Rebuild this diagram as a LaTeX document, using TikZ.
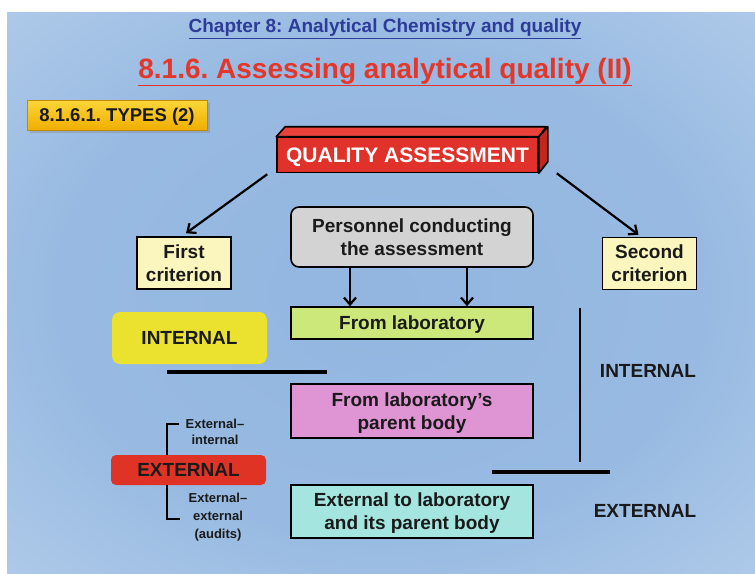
\documentclass[tikz,border=0pt]{standalone}
\usepackage{fontspec}
\setmainfont{Liberation Sans}
\usetikzlibrary{positioning,shadows,arrows.meta}
\definecolor{chapblue}{RGB}{45,60,152}
\definecolor{titlered}{RGB}{226,55,42}
\definecolor{qared}{RGB}{224,49,42}
\definecolor{qatop}{RGB}{234,66,58}
\definecolor{qaside}{RGB}{196,38,30}
\definecolor{critfill}{RGB}{251,246,190}
\definecolor{persfill}{RGB}{211,211,211}
\definecolor{labfill}{RGB}{204,231,122}
\definecolor{parentfill}{RGB}{223,148,211}
\definecolor{extfill}{RGB}{164,229,224}
\definecolor{intyellow}{RGB}{235,226,47}
\definecolor{extred}{RGB}{223,51,38}
\definecolor{goldtop}{RGB}{252,214,58}
\definecolor{goldbot}{RGB}{240,174,0}
\definecolor{inktext}{RGB}{26,26,26}
\definecolor{bgin}{RGB}{146,182,224}
\definecolor{bgmid}{RGB}{178,204,234}
\definecolor{bgout}{RGB}{244,228,246}
\pgfdeclareradialshading{slidebg}{\pgfpoint{0bp}{0bp}}{color(0bp)=(bgin); color(22bp)=(bgin!80!bgmid); color(38bp)=(bgmid); color(56bp)=(bgout); color(80bp)=(bgout)}
\frenchspacing
\begin{document}
\begin{tikzpicture}[x=1pt,y=-1pt,font=\bfseries,text=inktext,
	box/.style={draw=black,line width=1.6pt,minimum width=242pt,align=center,text depth=0pt,font=\fontsize{19}{23}\bfseries},
	crit/.style={draw=black,line width=1.6pt,fill=critfill,minimum width=94pt,minimum height=52pt,align=center,text depth=0pt,font=\fontsize{19}{23}\bfseries},
	tag/.style={rounded corners=8pt,minimum width=155pt,text depth=0pt,font=\fontsize{19}{21}\bfseries},
	side/.style={align=center,font=\fontsize{13}{16}\bfseries},
	arr/.style={line width=2.2pt,-{Straight Barb[length=7pt,width=12pt]}},
	rule/.style={line width=4pt}]
	\useasboundingbox (0,0) rectangle (755,573);
	\fill[white] (0,0) rectangle (755,573);
	\shade[shading=slidebg] (7,12) rectangle (755,573);
	% headings
	\node[text=chapblue,font=\fontsize{19}{21}\bfseries] (chap) at (385,29) {\underline{Chapter 8: Analytical Chemistry and quality}};
	\node[text=titlered,font=\fontsize{28}{32}\bfseries] (title) at (385,72) {\underline{8.1.6. Assessing analytical quality (II)}};
	\node[top color=goldtop,bottom color=goldbot,draw=goldbot!80!black,line width=.4pt,
		minimum width=180pt,minimum height=30pt,drop shadow={opacity=.35},text depth=0pt,
		font=\fontsize{18.5}{20}\bfseries] (types) at (117,115) {8.1.6.1. TYPES (2)};
	% 3d box
	\node[fill=qared,draw=black,line width=1.6pt,minimum width=261pt,minimum height=35pt,
		text=white,text depth=0pt,font=\fontsize{21}{23}\bfseries] (qa) at (407.5,155) {QUALITY ASSESSMENT};
	\draw[fill=qatop,line width=1.6pt,line join=round] (qa.north west) -- ++(9,-10) -- ++(261,0) -- (qa.north east) -- cycle;
	\draw[fill=qaside,line width=1.6pt,line join=round] (qa.north east) -- ++(9,-10) -- ++(0,35) -- (qa.south east) -- cycle;
	% criteria
	\node[crit] (first) at (184,263) {First\\criterion};
	\node[crit] (second) at (649.5,263.5) {Second\\criterion};
	\draw[arr] ([shift={(-9,1)}]qa.south west) -- ([shift={(2,-3)}]first.north);
	\draw[arr] ([shift={(18,0)}]qa.south east) -- ([shift={(-11,-2)}]second.north);
	% personnel column
	\node[box,fill=persfill,rounded corners=8pt,minimum height=60pt] (pers) at (412,237) {Personnel conducting\\the assessment};
	\node[box,fill=labfill,minimum height=32pt] (fromlab) at (412,323) {From laboratory};
	\node[box,fill=parentfill,minimum height=54pt] (parent) at (412,411) {From laboratory’s\\parent body};
	\node[box,fill=extfill,minimum height=53pt] (extlab) at (412,511.5) {External to laboratory\\and its parent body};
	\draw[arr] ([xshift=-62pt]pers.south) -- ([xshift=-62pt]fromlab.north);
	\draw[arr] ([xshift=55pt]pers.south) -- ([xshift=55pt]fromlab.north);
	% first criterion
	\node[tag,fill=intyellow,minimum height=52pt] (int) at (189.5,338) {INTERNAL};
	\node[tag,fill=extred,rounded corners=5pt,minimum height=30pt] (ext) at (188.5,470) {EXTERNAL};
	\coordinate (lsplitA) at (167,372);
	\coordinate (lsplitB) at (327,372);
	\draw[rule] (lsplitA) -- (lsplitB);
	\node[side,anchor=north] (exint) at (215,416) {External–\\internal};
	\node[side,anchor=north,font=\fontsize{13}{18}\bfseries] (exext) at (218,490) {External–\\external\\(audits)};
	\draw[line width=1.8pt] (ext.north -| lsplitA) |- ([shift={(-3,8)}]exint.north west);
	\draw[line width=1.8pt] (ext.south -| lsplitA) |- ([shift={(-5,29)}]exext.north west);
	% second criterion
	\coordinate (rtop) at (580,308);
	\coordinate (rbot) at (580,462);
	\draw[line width=1.8pt] (rtop) -- (rbot);
	\coordinate (rsplitA) at (492,472);
	\coordinate (rsplitB) at (610,472);
	\draw[rule] (rsplitA) -- (rsplitB);
	\node[text depth=0pt,font=\fontsize{19}{21}\bfseries] (rint) at (648,371) {INTERNAL};
	\node[text depth=0pt,font=\fontsize{19}{21}\bfseries] (rext) at (645,511) {EXTERNAL};
\end{tikzpicture}
\end{document}
